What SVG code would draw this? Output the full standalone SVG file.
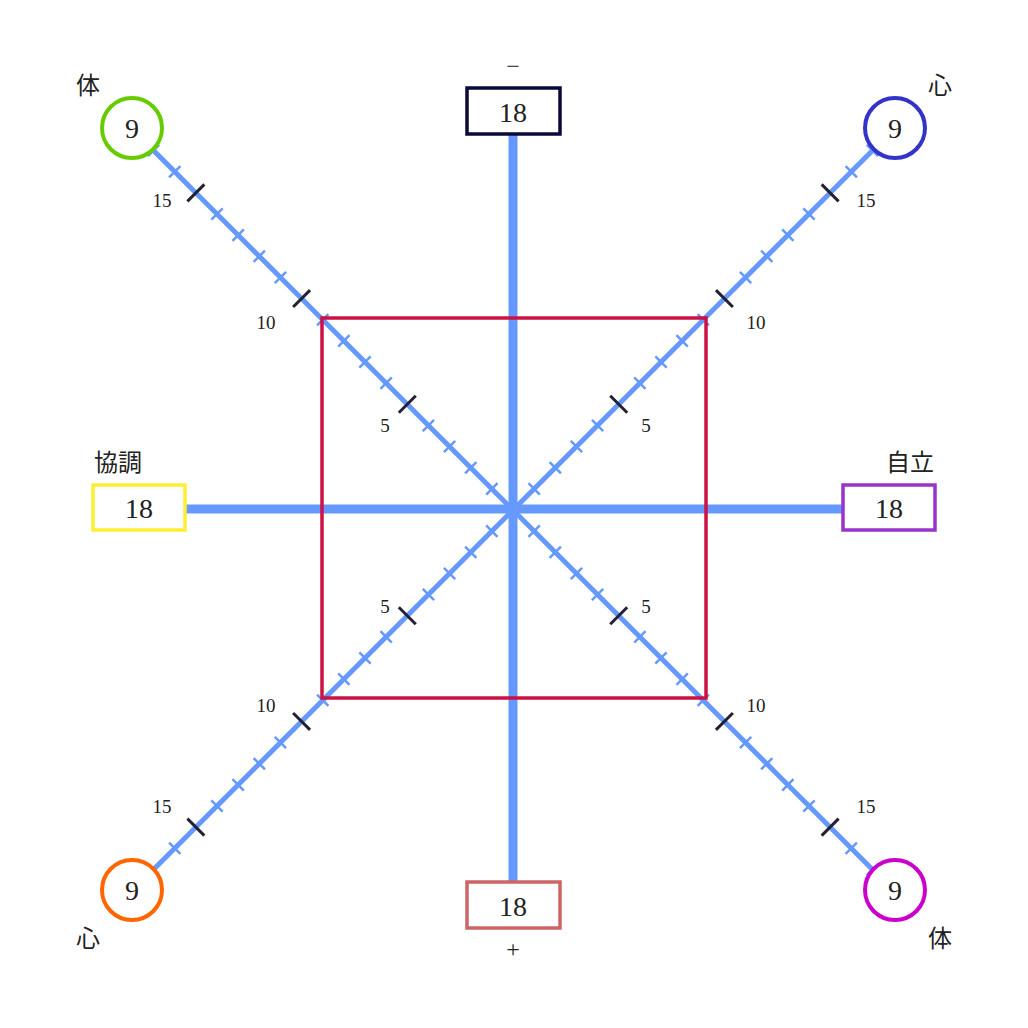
<svg xmlns="http://www.w3.org/2000/svg" width="1028" height="1028" viewBox="0 0 1028 1028">
<style>
text{font-family:"Liberation Serif","Noto Sans CJK JP",serif;fill:#222;text-anchor:middle}
.v{font-size:28px}.s{font-size:19px}.l{font-size:24px}
.axis{stroke:#6699ff;fill:none}
.box{fill:#fff;stroke-width:3.5}
.c{fill:#fff;stroke-width:4}
</style>
<defs>
<g id="diag">
<line class="axis" x1="0" y1="0" x2="508" y2="0" stroke-width="5"/>
<path class="axis" stroke-width="2.5" stroke="#88aaff" d="M29.9,-8V8M59.8,-8V8M89.7,-8V8M119.6,-8V8M179.4,-8V8M209.3,-8V8M239.2,-8V8M269.1,-8V8M328.9,-8V8M358.8,-8V8M388.7,-8V8M418.6,-8V8M478.4,-8V8M508.3,-8V8"/>
<path stroke="#223" stroke-width="3" d="M149.5,-12V12M299,-12V12M448.5,-12V12"/>
</g>
</defs>
<rect width="1028" height="1028" fill="#fff"/>
<g id="connectors">
<use href="#diag" transform="translate(513,510) rotate(-135)"/>
<use href="#diag" transform="translate(513,510) rotate(-45)"/>
<use href="#diag" transform="translate(513,510) rotate(45)"/>
<use href="#diag" transform="translate(513,510) rotate(135)"/>
<line class="axis" x1="513" y1="134" x2="513" y2="882" stroke-width="9"/>
<line class="axis" x1="185" y1="509" x2="843" y2="509" stroke-width="9"/>
</g>
<rect id="square" x="322" y="318" width="384" height="380" fill="none" stroke="#cc1144" stroke-width="3.5"/>
<g id="ticklabels" class="s">
<text class="s" x="162" y="207">15</text><text class="s" x="266" y="329">10</text><text class="s" x="385" y="432">5</text>
<text class="s" x="866" y="207">15</text><text class="s" x="756" y="329">10</text><text class="s" x="646" y="432">5</text>
<text class="s" x="385" y="613">5</text><text class="s" x="266" y="712">10</text><text class="s" x="162" y="813">15</text>
<text class="s" x="646" y="613">5</text><text class="s" x="756" y="712">10</text><text class="s" x="866" y="813">15</text>
</g>
<g id="top"><rect class="box" x="467" y="88" width="93" height="46" stroke="#0a0a3a"/><text class="v" x="513" y="122">18</text><text class="l" x="513" y="74">−</text></g>
<g id="bottom"><rect class="box" x="467" y="882" width="93" height="46" stroke="#cc6666"/><text class="v" x="513" y="916">18</text><text class="l" x="513" y="957">+</text></g>
<g id="left"><rect class="box" x="93" y="485" width="92" height="45" stroke="#ffee33"/><text class="v" x="139" y="518">18</text><text class="l" x="118" y="471">協調</text></g>
<g id="right"><rect class="box" x="843" y="485" width="92" height="45" stroke="#9933cc"/><text class="v" x="889" y="518">18</text><text class="l" x="910" y="471">自立</text></g>
<g id="ul"><circle class="c" cx="132" cy="128" r="30" stroke="#66cc00"/><text class="v" x="132" y="138">9</text><text class="l" x="88" y="94">体</text></g>
<g id="ur"><circle class="c" cx="895" cy="128" r="30" stroke="#3333cc"/><text class="v" x="895" y="138">9</text><text class="l" x="940" y="94">心</text></g>
<g id="ll"><circle class="c" cx="132" cy="890" r="30" stroke="#ff6600"/><text class="v" x="132" y="900">9</text><text class="l" x="88" y="947">心</text></g>
<g id="lr"><circle class="c" cx="895" cy="890" r="30" stroke="#cc00cc"/><text class="v" x="895" y="900">9</text><text class="l" x="940" y="947">体</text></g>
</svg>
